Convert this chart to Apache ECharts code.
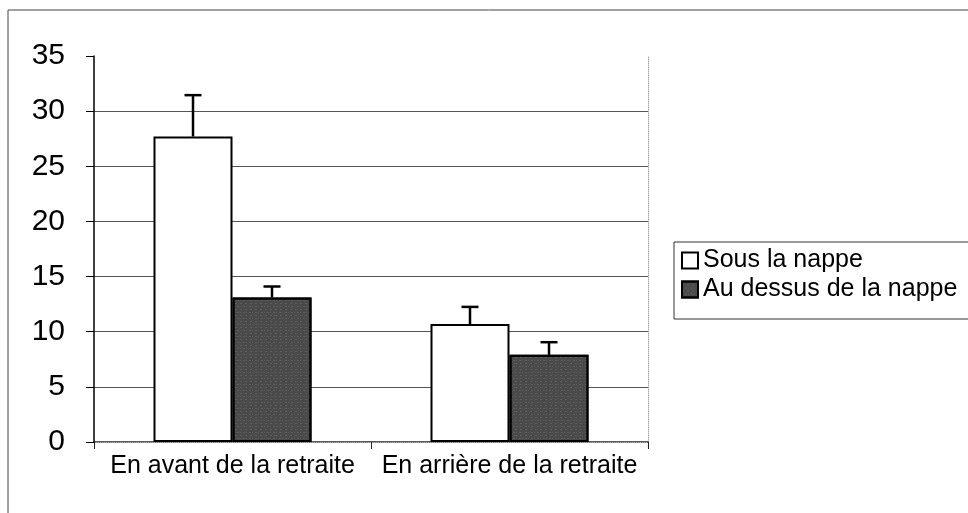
<!DOCTYPE html>
<html>
<head>
<meta charset="utf-8">
<script src="https://cdn.jsdelivr.net/npm/echarts@6/dist/echarts.min.js"></script>
<style>
  html, body { margin: 0; padding: 0; background: #fff; }
  #chart { width: 968px; height: 513px; }
</style>
</head>
<body>
<div id="chart"></div>
<script>
// data
const categories = ["En avant de la retraite", "En arrière de la retraite"];
const sousLaNappe = [27.7, 10.7];
const sousLaNappeErr = [31.45, 12.25];
const auDessus = [13.1, 7.9];
const auDessusErr = [14.1, 9.05];
const yTicks = { min: 0, max: 35, interval: 5 };

const FONT = "'Liberation Sans', Arial, sans-serif";
const BAR_W = 79;

const chart = echarts.init(document.getElementById("chart"));

// upward-only error bar, shifted onto its bar inside the category
const errorBars = (name, tops, values, shift) => ({
  name: name + " err",
  type: "custom",
  xAxisIndex: 0,
  yAxisIndex: 0,
  z: 5,
  silent: true,
  data: tops.map((t, i) => [i, values[i], t]),
  renderItem: (params, api) => {
    const base = api.coord([api.value(0), api.value(1)]);
    const top = api.coord([api.value(0), api.value(2)]);
    const x = base[0] + shift;
    const style = { stroke: "#000", lineWidth: 2.5 };
    return {
      type: "group",
      children: [
        { type: "line", shape: { x1: x, y1: base[1], x2: x, y2: top[1] }, style },
        { type: "line", shape: { x1: x - 8.5, y1: top[1], x2: x + 8.5, y2: top[1] }, style },
      ],
    };
  },
});

chart.setOption({
  backgroundColor: "#fff",
  animation: false,
  textStyle: { fontFamily: FONT, color: "#000" },
  graphic: [
    {
      type: "rect",
      shape: { x: 8, y: 10, width: 975, height: 520 },
      style: { fill: "none", stroke: "#444", lineWidth: 1 },
      silent: true,
      z: -1,
    },
  ],
  grid: { left: 94, right: 320, top: 56, bottom: 71 },
  legend: {
    orient: "vertical",
    left: 674,
    top: 242,
    padding: [6, 12, 17, 7],
    itemGap: 4,
    itemWidth: 16,
    itemHeight: 16,
    icon: "rect",
    backgroundColor: "#fff",
    borderColor: "#333",
    borderWidth: 1,
    borderRadius: 0,
    textStyle: { fontFamily: FONT, fontSize: 25, color: "#000", lineHeight: 25 },
    data: ["Sous la nappe", "Au dessus de la nappe"],
  },
  xAxis: [
    {
      type: "category",
      data: categories,
      axisLine: { lineStyle: { color: "#222", width: 1.5 } },
      axisTick: { show: true, length: 7, lineStyle: { color: "#222" } },
      axisLabel: { interval: 0, fontFamily: FONT, fontSize: 25, color: "#000", margin: 12 },
    },
    {
      type: "category",
      position: "top",
      data: categories,
      axisLine: { lineStyle: { color: "#aaa", type: "dotted" } },
      axisTick: { show: false },
      axisLabel: { show: false },
    },
  ],
  yAxis: [
    {
      type: "value",
      min: yTicks.min,
      max: yTicks.max,
      interval: yTicks.interval,
      axisLine: { show: true, lineStyle: { color: "#000", width: 1.5 } },
      axisTick: { show: true, length: 8, lineStyle: { color: "#000" } },
      axisLabel: { fontFamily: FONT, fontSize: 30, color: "#000", margin: 29 },
      splitLine: { show: true, showMaxLine: false, lineStyle: { color: "#555", width: 1 } },
    },
    {
      type: "value",
      position: "right",
      min: yTicks.min,
      max: yTicks.max,
      interval: yTicks.interval,
      axisLine: { show: true, lineStyle: { color: "#aaa", type: "dotted" } },
      axisTick: { show: false },
      axisLabel: { show: false },
      splitLine: { show: false },
    },
  ],
  series: [
    {
      name: "Sous la nappe",
      type: "bar",
      barWidth: BAR_W,
      barGap: "0%",
      data: sousLaNappe,
      itemStyle: { color: "#fff", borderColor: "#000", borderWidth: 2 },
    },
    {
      name: "Au dessus de la nappe",
      type: "bar",
      barWidth: BAR_W,
      barGap: "0%",
      data: auDessus,
      itemStyle: {
        color: "#4a4a4a",
        borderColor: "#000",
        borderWidth: 2,
        decal: {
          symbol: "rect",
          symbolSize: 0.6,
          color: "rgba(255,255,255,0.35)",
          dashArrayX: [[2, 3], [1, 2, 2, 1]],
          dashArrayY: [1, 2],
          rotation: 0,
        },
      },
    },
    errorBars("Sous la nappe", sousLaNappeErr, sousLaNappe, -BAR_W / 2),
    errorBars("Au dessus de la nappe", auDessusErr, auDessus, BAR_W / 2),
  ],
});
</script>
</body>
</html>
